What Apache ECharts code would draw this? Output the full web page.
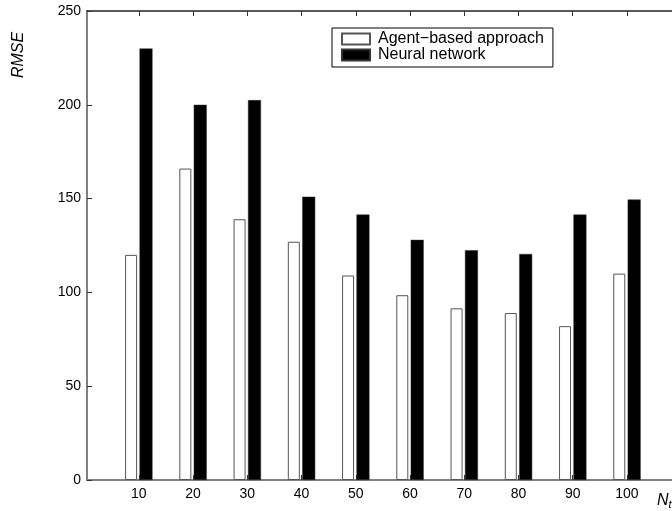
<!DOCTYPE html>
<html>
<head>
<meta charset="utf-8">
<script src="https://cdn.jsdelivr.net/npm/echarts@6/dist/echarts.min.js"></script>
<style>html,body{margin:0;padding:0;background:#fff}#c{width:672px;height:511px}</style>
</head>
<body>
<div id="c"></div>
<script>
const categories = [10, 20, 30, 40, 50, 60, 70, 80, 90, 100];
const agentBased = [120, 166, 139, 127, 109, 98.5, 91.5, 89, 82, 110];
const neuralNet = [230, 200, 202.5, 151, 141.5, 128, 122.5, 120.5, 141.5, 149.5];
const yTicks = [0, 50, 100, 150, 200, 250];
const seriesNames = ['Agent\u2212based approach', 'Neural network'];

const FONT = 'Liberation Sans, Arial, Helvetica, sans-serif';
const chart = echarts.init(document.getElementById('c'), null, {renderer: 'canvas'});
const xMin = 0.45, xMax = 108.3;
chart.setOption({
  animation: false,
  backgroundColor: '#fff',
  textStyle: {fontFamily: FONT},
  title: {
    text: '{n|N}{t|t}',
    left: 652, top: 486,
    textStyle: {
      fontWeight: 'normal',
      rich: {
        n: {fontFamily: FONT, fontStyle: 'italic', fontWeight: 'normal', fontSize: 16, color: '#000'},
        t: {fontFamily: FONT, fontStyle: 'italic', fontWeight: 'normal', fontSize: 11, color: '#000', verticalAlign: 'bottom', padding: [8, 0, 0, 0]}
      }
    }
  },
  graphic: [{
    type: 'text',
    x: 19, y: 55, rotation: Math.PI / 2,
    style: {text: 'RMSE', font: 'italic 16px ' + FONT, fill: '#000', align: 'center', verticalAlign: 'middle'}
  }],
  legend: {
    data: seriesNames,
    orient: 'vertical',
    left: 332, top: 28,
    borderColor: '#000', borderWidth: 1,
    padding: [3, 9, 4, 9],
    itemWidth: 28, itemHeight: 11, itemGap: 0,
    icon: 'rect',
    textStyle: {fontFamily: FONT, fontSize: 16, color: '#000', lineHeight: 15.5, padding: [0, 0, 0, 3]}
  },
  grid: {left: 87, right: 0, top: 11, bottom: 31, containLabel: false},
  xAxis: [{
    type: 'value', min: xMin, max: xMax, position: 'bottom',
    axisLine: {show: true, lineStyle: {color: '#808080', width: 2}},
    axisTick: {show: true, inside: true, length: 5, customValues: categories, lineStyle: {color: '#333'}},
    axisLabel: {show: true, customValues: categories, fontSize: 14, color: '#000', margin: 7, fontFamily: FONT},
    splitLine: {show: false}
  }, {
    type: 'value', min: xMin, max: xMax, position: 'top',
    axisLine: {show: true, lineStyle: {color: '#222', width: 1.5}},
    axisTick: {show: true, inside: true, length: 5, customValues: categories, lineStyle: {color: '#333'}},
    axisLabel: {show: false},
    splitLine: {show: false}
  }],
  yAxis: {
    type: 'value', min: 0, max: 250, interval: 50,
    axisLine: {show: true, lineStyle: {color: '#808080', width: 2}},
    axisTick: {show: true, inside: true, length: 5, customValues: yTicks, lineStyle: {color: '#333'}},
    axisLabel: {fontSize: 14, color: '#000', margin: 6, fontFamily: FONT, customValues: yTicks},
    splitLine: {show: false}
  },
  series: [{
    name: seriesNames[0], type: 'bar', xAxisIndex: 0,
    barWidth: 12, barGap: '25%',
    itemStyle: {color: '#fff', borderColor: '#555', borderWidth: 1},
    data: categories.map((c, i) => [c, agentBased[i]])
  }, {
    name: seriesNames[1], type: 'bar', xAxisIndex: 0,
    barWidth: 13, barGap: '20%',
    itemStyle: {color: '#000', borderColor: '#333', borderWidth: 0.5},
    data: categories.map((c, i) => [c, neuralNet[i]])
  }]
});
</script>
</body>
</html>
